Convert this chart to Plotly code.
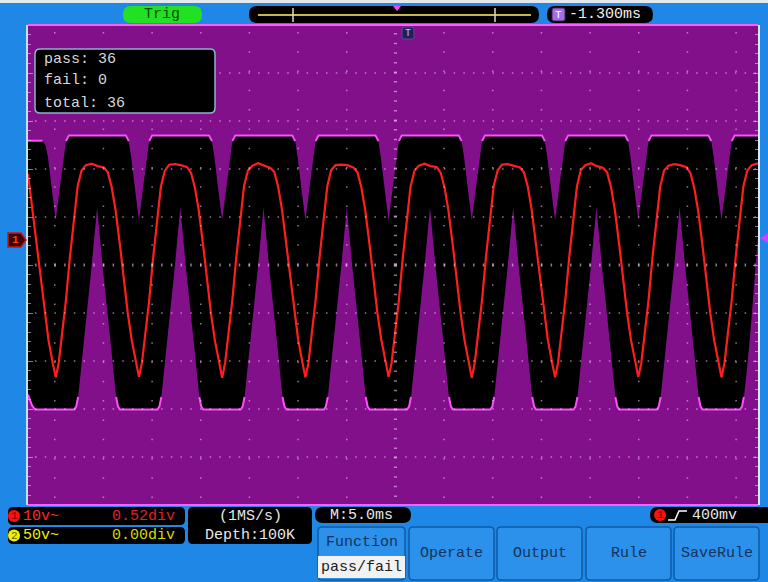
import plotly.graph_objects as go

W, H = 768, 582
MONO = "Liberation Mono, DejaVu Sans Mono, monospace"

# time axis in ms (5 ms/div), level in screen divisions
X_RANGE = [-37.75, 37.25]
Y_RANGE = [-5, 5]
TIME_PER_DIV = 5

# CH1 trace
CH1_T = [
    -37.75, -37.30, -36.85, -36.45, -36.05, -35.65, -35.20,
    -34.90, -34.60, -34.30, -33.85, -33.45, -33.05, -32.65, -32.25, -31.80, -31.20,
    -30.60, -29.95, -29.55, -29.15, -28.75, -28.30, -27.90, -27.50, -27.10, -26.65,
    -26.35, -26.05, -25.75, -25.30, -24.90, -24.50, -24.10, -23.70, -23.25, -22.65,
    -22.05, -21.40, -21.00, -20.60, -20.20, -19.75, -19.35, -18.95, -18.55, -18.10,
    -17.80, -17.50, -17.20, -16.75, -16.35, -15.95, -15.55, -15.15, -14.70, -14.10,
    -13.50, -12.85, -12.45, -12.05, -11.65, -11.20, -10.80, -10.40, -10.00, -9.55,
    -9.25, -8.95, -8.65, -8.20, -7.80, -7.40, -7.00, -6.60, -6.15, -5.55,
    -4.95, -4.30, -3.90, -3.50, -3.10, -2.65, -2.25, -1.85, -1.45, -1.00,
    -0.70, -0.40, -0.10, 0.35, 0.75, 1.15, 1.55, 1.95, 2.40, 3.00,
    3.60, 4.25, 4.65, 5.05, 5.45, 5.90, 6.30, 6.70, 7.10, 7.55,
    7.85, 8.15, 8.45, 8.90, 9.30, 9.70, 10.10, 10.50, 10.95, 11.55,
    12.15, 12.80, 13.20, 13.60, 14.00, 14.45, 14.85, 15.25, 15.65, 16.10,
    16.40, 16.70, 17.00, 17.45, 17.85, 18.25, 18.65, 19.05, 19.50, 20.10,
    20.70, 21.35, 21.75, 22.15, 22.55, 23.00, 23.40, 23.80, 24.20, 24.65,
    24.95, 25.25, 25.55, 26.00, 26.40, 26.80, 27.20, 27.60, 28.05, 28.65,
    29.25, 29.90, 30.30, 30.70, 31.10, 31.55, 31.95, 32.35, 32.75, 33.20,
    33.50, 33.80, 34.10, 34.55, 34.95, 35.35, 35.75, 36.15, 36.60, 37.25,
]
CH1_V = [
    1.90, 1.14, 0.41, -0.33, -1.00, -1.56, -2.05,
    -2.34, -2.05, -1.56, -0.73, 0.15, 0.93, 1.64, 1.97, 2.08, 2.11,
    2.06, 2.03, 1.93, 1.62, 1.14, 0.41, -0.33, -1.00, -1.56, -2.05,
    -2.33, -2.05, -1.57, -0.74, 0.14, 0.92, 1.63, 1.96, 2.09, 2.10,
    2.08, 2.04, 1.92, 1.61, 1.13, 0.40, -0.34, -1.01, -1.57, -2.06,
    -2.35, -2.04, -1.55, -0.72, 0.16, 0.94, 1.65, 1.97, 2.07, 2.12,
    2.07, 2.02, 1.94, 1.63, 1.15, 0.42, -0.32, -0.99, -1.55, -2.04,
    -2.34, -2.06, -1.56, -0.73, 0.15, 0.93, 1.64, 1.98, 2.08, 2.09,
    2.08, 2.03, 1.93, 1.62, 1.14, 0.41, -0.33, -1.00, -1.56, -2.05,
    -2.33, -2.05, -1.57, -0.74, 0.14, 0.92, 1.63, 1.96, 2.07, 2.11,
    2.06, 2.04, 1.92, 1.61, 1.13, 0.40, -0.34, -1.01, -1.57, -2.06,
    -2.35, -2.04, -1.55, -0.72, 0.16, 0.94, 1.65, 1.97, 2.09, 2.10,
    2.07, 2.03, 1.93, 1.63, 1.15, 0.42, -0.32, -0.99, -1.55, -2.04,
    -2.34, -2.05, -1.56, -0.73, 0.15, 0.93, 1.64, 1.98, 2.08, 2.12,
    2.06, 2.02, 1.93, 1.62, 1.14, 0.41, -0.33, -1.00, -1.56, -2.05,
    -2.33, -2.06, -1.57, -0.74, 0.14, 0.92, 1.63, 1.97, 2.07, 2.10,
    2.08, 2.04, 1.92, 1.61, 1.13, 0.40, -0.34, -1.01, -1.57, -2.06,
    -2.34, -2.05, -1.56, -0.73, 0.15, 0.93, 1.64, 1.97, 2.08, 2.12,
]

# pass/fail mask: top edge and bottom edge of the black band
MASK_UPPER_T = [
    -37.75,
    -36.25, -35.95, -35.70, -35.35, -34.90, -34.45, -34.10, -33.85, -33.55,
    -27.70, -27.40, -27.15, -26.80, -26.35, -25.90, -25.55, -25.30, -25.00,
    -19.15, -18.85, -18.60, -18.25, -17.80, -17.35, -17.00, -16.75, -16.45,
    -10.60, -10.30, -10.05, -9.70, -9.25, -8.80, -8.45, -8.20, -7.90,
    -2.05, -1.75, -1.50, -1.15, -0.70, -0.25, 0.10, 0.35, 0.65,
    6.50, 6.80, 7.05, 7.40, 7.85, 8.30, 8.65, 8.90, 9.20,
    15.05, 15.35, 15.60, 15.95, 16.40, 16.85, 17.20, 17.45, 17.75,
    23.60, 23.90, 24.15, 24.50, 24.95, 25.40, 25.75, 26.00, 26.30,
    32.15, 32.45, 32.70, 33.05, 33.50, 33.95, 34.30, 34.55, 34.85,
    37.25,
]
MASK_UPPER_V = [
    2.59,
    2.59, 2.50, 2.25, 1.65, 0.93, 1.65, 2.25, 2.58, 2.70,
    2.70, 2.58, 2.25, 1.65, 0.93, 1.65, 2.25, 2.58, 2.70,
    2.70, 2.58, 2.25, 1.65, 0.93, 1.65, 2.25, 2.58, 2.70,
    2.70, 2.58, 2.25, 1.65, 0.93, 1.65, 2.25, 2.58, 2.70,
    2.70, 2.58, 2.25, 1.65, 0.93, 1.65, 2.25, 2.58, 2.70,
    2.70, 2.58, 2.25, 1.65, 0.93, 1.65, 2.25, 2.58, 2.70,
    2.70, 2.58, 2.25, 1.65, 0.93, 1.65, 2.25, 2.58, 2.70,
    2.70, 2.58, 2.25, 1.65, 0.93, 1.65, 2.25, 2.58, 2.70,
    2.70, 2.58, 2.25, 1.65, 0.93, 1.65, 2.25, 2.58, 2.70,
    2.70,
]
MASK_LOWER_T = [
    -37.75, -37.35, -37.05,
    -33.00, -32.80, -32.60, -32.35, -31.95, -31.25, -30.65, -30.05, -29.35, -28.95, -28.70, -28.50, -28.30,
    -24.45, -24.25, -24.05, -23.80, -23.40, -22.70, -22.10, -21.50, -20.80, -20.40, -20.15, -19.95, -19.75,
    -15.90, -15.70, -15.50, -15.25, -14.85, -14.15, -13.55, -12.95, -12.25, -11.85, -11.60, -11.40, -11.20,
    -7.35, -7.15, -6.95, -6.70, -6.30, -5.60, -5.00, -4.40, -3.70, -3.30, -3.05, -2.85, -2.65,
    1.20, 1.40, 1.60, 1.85, 2.25, 2.95, 3.55, 4.15, 4.85, 5.25, 5.50, 5.70, 5.90,
    9.75, 9.95, 10.15, 10.40, 10.80, 11.50, 12.10, 12.70, 13.40, 13.80, 14.05, 14.25, 14.45,
    18.30, 18.50, 18.70, 18.95, 19.35, 20.05, 20.65, 21.25, 21.95, 22.35, 22.60, 22.80, 23.00,
    26.85, 27.05, 27.25, 27.50, 27.90, 28.60, 29.20, 29.80, 30.50, 30.90, 31.15, 31.35, 31.55,
    35.40, 35.60, 35.80, 36.05, 36.45, 37.00, 37.25,
]
MASK_LOWER_V = [
    -2.70, -2.92, -3.01,
    -3.01, -2.95, -2.75, -2.30, -1.45, -0.10, 1.20, -0.10, -1.45, -2.30, -2.75, -2.95, -3.01,
    -3.01, -2.95, -2.75, -2.30, -1.45, -0.10, 1.20, -0.10, -1.45, -2.30, -2.75, -2.95, -3.01,
    -3.01, -2.95, -2.75, -2.30, -1.45, -0.10, 1.20, -0.10, -1.45, -2.30, -2.75, -2.95, -3.01,
    -3.01, -2.95, -2.75, -2.30, -1.45, -0.10, 1.20, -0.10, -1.45, -2.30, -2.75, -2.95, -3.01,
    -3.01, -2.95, -2.75, -2.30, -1.45, -0.10, 1.20, -0.10, -1.45, -2.30, -2.75, -2.95, -3.01,
    -3.01, -2.95, -2.75, -2.30, -1.45, -0.10, 1.20, -0.10, -1.45, -2.30, -2.75, -2.95, -3.01,
    -3.01, -2.95, -2.75, -2.30, -1.45, -0.10, 1.20, -0.10, -1.45, -2.30, -2.75, -2.95, -3.01,
    -3.01, -2.95, -2.75, -2.30, -1.45, -0.10, 1.20, -0.10, -1.45, -2.30, -2.75, -2.95, -3.01,
    -3.01, -2.95, -2.75, -2.30, -1.45, -0.10, 0.60,
]

PASS_COUNT = 36
FAIL_COUNT = 0
TOTAL_COUNT = 36
TRIG_OFFSET = "-1.300ms"
CH1_SCALE, CH1_POS = "10v~", "0.52div"
CH2_SCALE, CH2_POS = "50v~", "0.00div"
SAMPLE_RATE = "(1MS/s)"
DEPTH = "Depth:100K"
TIMEBASE = "M:5.0ms"
TRIG_LEVEL = "400mv"
MENU_BUTTONS = ["Operate", "Output", "Rule", "SaveRule"]

BLUE = "#1f88e6"
PURPLE = "#82108a"
GRID = "rgba(235,200,235,0.6)"
BTN_FILL = "#2b91ea"
BTN_EDGE = "#105aa6"
BTN_TEXT = "#16335c"


def px(x):
    return x / W


def py(y):
    return 1 - y / H


def rrect(x0, y0, x1, y1, r, fill, edge=None, lw=0, layer="above"):
    pts = [
        ("M", [(x0 + r, y0)]), ("L", [(x1 - r, y0)]), ("Q", [(x1, y0), (x1, y0 + r)]),
        ("L", [(x1, y1 - r)]), ("Q", [(x1, y1), (x1 - r, y1)]), ("L", [(x0 + r, y1)]),
        ("Q", [(x0, y1), (x0, y1 - r)]), ("L", [(x0, y0 + r)]), ("Q", [(x0, y0), (x0 + r, y0)]),
    ]
    path = " ".join(
        cmd + " " + " ".join(f"{px(a):.5f},{py(b):.5f}" for a, b in p) for cmd, p in pts
    ) + " Z"
    return dict(type="path", path=path, xref="paper", yref="paper", fillcolor=fill,
                line=dict(color=edge or fill, width=lw), layer=layer)


def poly(points, fill, edge=None, lw=0):
    path = "M " + " L ".join(f"{px(a):.5f},{py(b):.5f}" for a, b in points) + " Z"
    return dict(type="path", path=path, xref="paper", yref="paper", fillcolor=fill,
                line=dict(color=edge or fill, width=lw), layer="above")


def seg(x0, y0, x1, y1, color, width):
    return dict(type="line", xref="paper", yref="paper", x0=px(x0), y0=py(y0), x1=px(x1), y1=py(y1),
                line=dict(color=color, width=width), layer="above")


def circle(cx, cy, r, fill):
    return dict(type="circle", xref="paper", yref="paper", x0=px(cx - r), x1=px(cx + r),
                y0=py(cy + r), y1=py(cy - r), fillcolor=fill, line=dict(width=0), layer="above")


def label(x, y, s, color, size=15, anchor="left"):
    return dict(x=px(x), y=py(y), xref="paper", yref="paper", text=s, showarrow=False,
                xanchor=anchor, yanchor="middle", font=dict(family=MONO, size=size, color=color))


fig = go.Figure()

# mask band
fig.add_trace(go.Scatter(
    x=MASK_UPPER_T + MASK_LOWER_T[::-1],
    y=MASK_UPPER_V + MASK_LOWER_V[::-1],
    fill="toself", fillcolor="black", mode="lines",
    line=dict(width=0, color="black"), hoverinfo="skip",
))
fig.add_trace(go.Scatter(
    x=MASK_UPPER_T, y=[v if v >= 2.55 else None for v in MASK_UPPER_V],
    mode="lines", line=dict(color="#ff4dff", width=2), hoverinfo="skip",
))
fig.add_trace(go.Scatter(
    x=MASK_LOWER_T, y=[v if v <= -2.7 else None for v in MASK_LOWER_V],
    mode="lines", line=dict(color="#ff4dff", width=2), hoverinfo="skip",
))
# CH1 waveform
fig.add_trace(go.Scatter(
    x=CH1_T, y=CH1_V, mode="lines",
    line=dict(color="#ff1e1e", width=2.2), hoverinfo="skip",
))

shapes = []

# dotted graticule drawn over the mask
x_lo, x_hi = X_RANGE
y_lo, y_hi = Y_RANGE
for t in range(-35, 36, TIME_PER_DIV):
    w, dash = (3, "1.5px,8.1px") if t == 0 else (1.5, "1.5px,17.8px")
    for end in (y_lo, y_hi):
        shapes.append(dict(type="line", xref="x", yref="y", x0=t, x1=t, y0=0, y1=end,
                           line=dict(color=GRID, width=w, dash=dash), layer="above"))
for v in range(y_lo + 1, y_hi):
    w = 3 if v == 0 else 1.5
    for end in (x_lo, x_hi):
        shapes.append(dict(type="line", xref="x", yref="y", x0=0, x1=end, y0=v, y1=v,
                           line=dict(color=GRID, width=w, dash="1.5px,8.2px"), layer="above"))

# screen frame
shapes += [
    dict(type="rect", xref="paper", yref="paper", x0=0, x1=1, y0=py(3), y1=1,
         fillcolor="#e4e9ee", line=dict(width=0), layer="above"),
    seg(28, 25, 758, 25, "#ff5cff", 2),
    seg(28, 505, 758, 505, "#ff5cff", 2),
    seg(27, 25, 27, 505, "#c4e0ff", 2),
    seg(759, 25, 759, 505, "#d8ecff", 2),
]

annotations = []

# top status row
shapes.append(rrect(123, 6, 202, 23, 8, "#22e022"))
annotations.append(label(162, 14.5, "Trig", "#0d4d0d", 15, "center"))
shapes.append(rrect(249, 6, 539, 23, 8, "black"))
shapes.append(seg(258, 15, 531, 15, "#c8b840", 2))
shapes.append(seg(293, 8, 293, 22, "#d8d8c8", 1.5))
shapes.append(seg(495, 8, 495, 22, "#d8d8c8", 1.5))
shapes.append(poly([(393, 6), (401, 6), (397, 11)], "#ff40ff"))
shapes.append(rrect(547, 6, 653, 23, 8, "black"))
shapes.append(rrect(552, 8, 565, 21, 2, "#a070e0", "#402070", 1))
annotations.append(label(558.5, 14.5, "T", "white", 11, "center"))
annotations.append(label(567, 14.5, TRIG_OFFSET, "#f0f0f0", 15))

# trigger position badge and level / channel markers
shapes.append(rrect(402, 27, 414, 39, 2, "#22205a", "#5a4aa0", 1))
annotations.append(label(408, 33, "T", "#c8b8ff", 10, "center"))
shapes.append(poly([(8, 233), (21, 233), (26, 240), (21, 247), (8, 247)], "#3a0505", "#c01818", 1.5))
annotations.append(label(15, 240, "<b>1</b>", "#ff3a10", 11, "center"))
shapes.append(poly([(760, 238), (768, 233), (768, 243)], "#d040ff"))

# pass / fail counter
shapes.append(rrect(35, 49, 215, 113, 5, "black", "#8fb0cc", 1.5))
annotations.append(label(42, 60, f"pass: {PASS_COUNT}", "#d8d8d8"))
annotations.append(label(42, 81, f"fail: {FAIL_COUNT}", "#d8d8d8"))
annotations.append(label(42, 103, f"total: {TOTAL_COUNT}", "#d8d8d8"))

# bottom status boxes
shapes.append(rrect(8, 507, 185, 525, 5, "black"))
shapes.append(circle(14, 516, 6, "#ff1010"))
annotations.append(label(14, 516, "1", "#800000", 11, "center"))
annotations.append(label(21, 516, CH1_SCALE, "#ff2a2a"))
annotations.append(label(177, 516, CH1_POS, "#e02020", 15, "right"))
shapes.append(rrect(8, 527, 185, 544, 5, "black"))
shapes.append(circle(14, 535.5, 6, "#f0f000"))
annotations.append(label(14, 535.5, "2", "#606000", 11, "center"))
annotations.append(label(21, 535.5, CH2_SCALE, "#f0f000"))
annotations.append(label(177, 535.5, CH2_POS, "#d8d800", 15, "right"))
shapes.append(rrect(188, 507, 312, 544, 5, "black"))
annotations.append(label(250, 516, SAMPLE_RATE, "#e8e8e8", 15, "center"))
annotations.append(label(250, 535.5, DEPTH, "#e8e8e8", 15, "center"))
shapes.append(rrect(315, 507, 411, 523, 8, "black"))
annotations.append(label(328, 515, TIMEBASE, "#e8e8e8"))
shapes.append(rrect(650, 507, 776, 523, 8, "black"))
shapes.append(circle(660, 515, 6, "#ff1010"))
annotations.append(label(660, 515, "1", "#800000", 11, "center"))
shapes.append(dict(type="path", xref="paper", yref="paper",
                   path=f"M {px(668)},{py(520)} L {px(675)},{py(520)} L {px(679)},{py(511)} L {px(687)},{py(511)}",
                   line=dict(color="white", width=1.5), layer="above"))
annotations.append(label(690, 515, TRIG_LEVEL, "#e8e8e8"))

# soft menu
shapes.append(rrect(318, 527, 405, 580, 4, BTN_FILL, BTN_EDGE, 1.5))
annotations.append(label(361.5, 542, "Function", BTN_TEXT, 15, "center"))
shapes.append(dict(type="rect", xref="paper", yref="paper", x0=px(318), x1=px(405),
                   y0=py(578), y1=py(556), fillcolor="#f2f2f2", line=dict(width=0), layer="above"))
annotations.append(label(361.5, 567, "pass/fail", "#202020", 15, "center"))
btn_left = [409, 497, 586, 674]
for name, x0 in zip(MENU_BUTTONS, btn_left):
    shapes.append(rrect(x0, 527, x0 + 85, 580, 4, BTN_FILL, BTN_EDGE, 1.5))
    annotations.append(label(x0 + 42.5, 553, name, BTN_TEXT, 15, "center"))

fig.update_layout(
    width=W,
    height=H,
    margin=dict(l=0, r=0, t=0, b=0),
    paper_bgcolor=BLUE,
    plot_bgcolor=PURPLE,
    showlegend=False,
    xaxis=dict(domain=[px(28), px(758)], range=X_RANGE, showgrid=False, zeroline=False,
               showticklabels=False, ticks="", fixedrange=True),
    yaxis=dict(domain=[py(505), py(25)], range=Y_RANGE, showgrid=False, zeroline=False,
               showticklabels=False, ticks="inside", ticklen=5, dtick=1, tickcolor=GRID,
               mirror="ticks", layer="above traces", fixedrange=True,
               minor=dict(ticks="inside", ticklen=3, dtick=0.2, tickcolor=GRID)),
    shapes=shapes,
    annotations=annotations,
)

# page body has a default margin; drop it so the figure sits at the window origin
fig.write_html("out.html", post_script="document.body.style.margin='0';",
               config={"displayModeBar": False})
